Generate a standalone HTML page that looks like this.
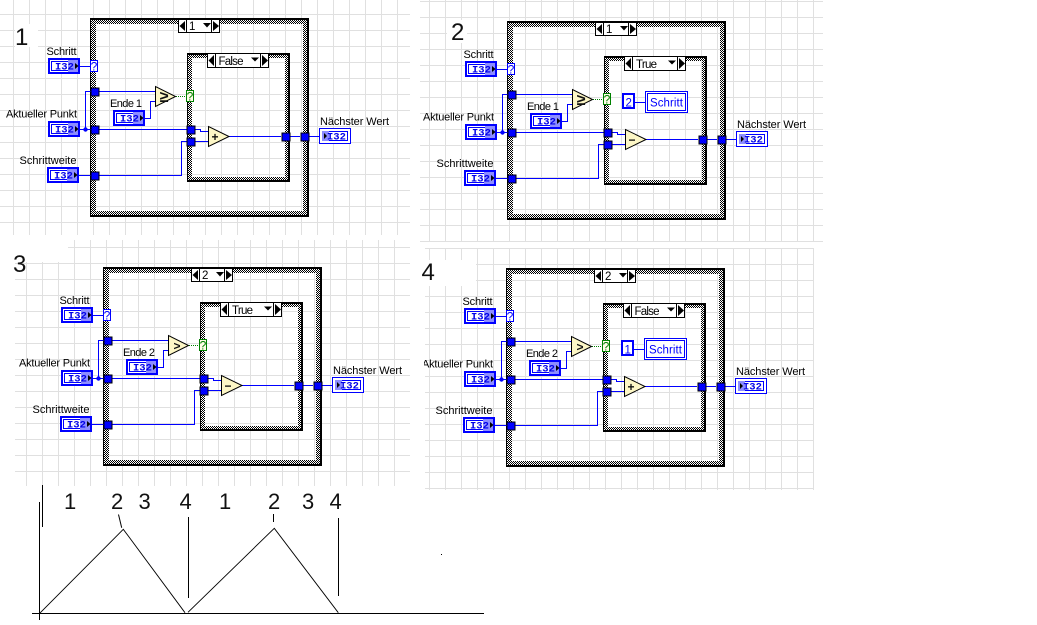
<!DOCTYPE html>
<html>
<head>
<meta charset="utf-8">
<style>
html,body{margin:0;padding:0;background:#fff;width:1037px;height:625px;overflow:hidden}
svg{display:block}
text{font-family:"Liberation Sans",sans-serif}
.l{font-size:11px;fill:#000}
.n{font-size:24px;fill:#111}
.c{font-size:22px;fill:#111}
.t{font-family:"Liberation Mono",monospace;font-weight:bold;font-size:10.5px;fill:#0000e8}
.s{font-size:11.5px;fill:#000}
.q{font-size:12px;fill:#0000ff;text-anchor:middle}
.g{font-size:12px;fill:#008000;text-anchor:middle}
.o{font-size:12px;font-weight:bold;fill:#111;text-anchor:middle}
.ge{font-size:16px;font-weight:bold;fill:#111;text-anchor:middle}
.b{font-size:11.5px;fill:#0000ff}
</style>
</head>
<body>
<svg width="1037" height="625" viewBox="0 0 1037 625" xmlns="http://www.w3.org/2000/svg">
<defs>
<pattern id="g1" patternUnits="userSpaceOnUse" x="13" y="14" width="16" height="16"><rect width="1" height="16" fill="#e0e0e0" shape-rendering="crispEdges"/><rect width="16" height="1" fill="#e0e0e0" shape-rendering="crispEdges"/></pattern>
<pattern id="g2" patternUnits="userSpaceOnUse" x="429" y="17" width="16" height="16"><rect width="1" height="16" fill="#e0e0e0" shape-rendering="crispEdges"/><rect width="16" height="1" fill="#e0e0e0" shape-rendering="crispEdges"/></pattern>
<pattern id="g3" patternUnits="userSpaceOnUse" x="26" y="263" width="16" height="16"><rect width="1" height="16" fill="#e0e0e0" shape-rendering="crispEdges"/><rect width="16" height="1" fill="#e0e0e0" shape-rendering="crispEdges"/></pattern>
<pattern id="g4" patternUnits="userSpaceOnUse" x="429" y="264" width="16" height="16"><rect width="1" height="16" fill="#e0e0e0" shape-rendering="crispEdges"/><rect width="16" height="1" fill="#e0e0e0" shape-rendering="crispEdges"/></pattern>
<clipPath id="cp"><rect x="8" y="100" width="80" height="30"/></clipPath>

<g id="ctl">
<rect x="1" y="1" width="30" height="14" fill="#fff" stroke="#0000ff" stroke-width="2" shape-rendering="crispEdges"/>
<rect x="3.5" y="3.5" width="25" height="9" fill="none" stroke="#0000ff" shape-rendering="crispEdges"/>
<rect x="20" y="2" width="10" height="12" fill="#8c8cff" shape-rendering="crispEdges"/>
<polygon points="27,5 30.5,8 27,11" fill="#000"/>
</g>
<g id="ind">
<rect x=".5" y=".5" width="31" height="15" fill="#fff" stroke="#0000ff" shape-rendering="crispEdges"/>
<rect x="3.5" y="3.5" width="25" height="9" fill="none" stroke="#0000ff" shape-rendering="crispEdges"/>
<rect x="3" y="3" width="7" height="10" fill="#8c8cff" shape-rendering="crispEdges"/>
<polygon points="5,5 8,8 5,11" fill="#000"/>
</g>
<rect id="tun" x="-3.5" y="-3.5" width="8" height="8" fill="#0000ff" stroke="#000" shape-rendering="crispEdges"/>

<g id="base">
<path d="M90 18H309V217H90Z M96 24V211H303V24Z" fill="#fff" fill-rule="evenodd" shape-rendering="crispEdges"/>
<path d="M187 53H290V182H187Z M192 58V177H285V58Z" fill="#fff" fill-rule="evenodd" shape-rendering="crispEdges"/>
<path fill="none" stroke="#000" stroke-dasharray="1 1" shape-rendering="crispEdges" d="
M91 19.5H308M92 20.5H308M91 21.5H308M92 22.5H308M91 23.5H308
M91 211.5H308M92 212.5H308M91 213.5H308M92 214.5H308M91 215.5H308
M91.5 25V211M92.5 24V211M93.5 25V211M94.5 24V211M95.5 25V211
M303.5 25V211M304.5 24V211M305.5 25V211M306.5 24V211M307.5 25V211
M188 54.5H289M189 55.5H289M188 56.5H289M189 57.5H289
M189 177.5H289M188 178.5H289M189 179.5H289M188 180.5H289
M188.5 58V177M189.5 59V177M190.5 58V177M191.5 59V177
M285.5 59V177M286.5 58V177M287.5 59V177M288.5 58V177"/>
<path fill="none" stroke="#000" shape-rendering="crispEdges" d="
M90 18.5H309M90 19.5H309M90.5 18V217M90 216.5H309M90 215.5H309M308.5 18V217M307.5 18V217
M187 53.5H290M187 54.5H290M187.5 53V182M187 181.5H290M187 180.5H290M289.5 53V182M288.5 53V182"/>

<g shape-rendering="crispEdges" fill="none" stroke="#000">
<rect x="178.5" y="19.5" width="41" height="13" fill="#fff"/>
<path d="M186.5 20V32M211.5 20V32"/>
<rect x="207.5" y="53.5" width="61" height="14" fill="#fff"/>
<path d="M215.5 54V67M260.5 54V67"/>
</g>
<g fill="#000">
<polygon points="185,21 179.5,26 185,31"/>
<polygon points="213,21 219,26 213,31"/>
<polygon points="203,23 211,23 207,27.5"/>
<polygon points="214,55 208.5,60.5 214,66"/>
<polygon points="262,55 268,60.5 262,66"/>
<polygon points="251,57.5 259,57.5 255,61.5"/>
</g>

<g fill="none" stroke="#0000ff" shape-rendering="crispEdges">
<path d="M80 66.5H91"/>
<path d="M80 129.5H91M85.5 129V91.5H155"/>
<path d="M98 129.5H187"/>
<path d="M79 175.5H91M98 175.5H181.5V141.5H187"/>
<path d="M195 129.5H200.5V131.5H208M195 141.5H208"/>
<path d="M229 136.5H281M289 136.5H300M308 136.5H319"/>
<path d="M145 118.5H150.5V101.5H155"/>
</g>
<circle cx="85.5" cy="129.5" r="2.2" fill="#0000ff"/>
<path d="M176 96.5H186" stroke="#008000" stroke-dasharray="1 1" fill="none" shape-rendering="crispEdges"/>

<polygon points="155.5,86.5 155.5,106.5 175.5,96.5" fill="#fdf7c6" stroke="#000"/>
<polygon points="208.5,126.5 208.5,146.5 229,136.5" fill="#fdf7c6" stroke="#000"/>

<use href="#tun" x="94.5" y="91.5"/>
<use href="#tun" x="94.5" y="129.5"/>
<use href="#tun" x="94.5" y="175.5"/>
<use href="#tun" x="190.5" y="129.5"/>
<use href="#tun" x="190.5" y="141.5"/>
<use href="#tun" x="285.5" y="136.5"/>
<use href="#tun" x="304.5" y="136.5"/>

<rect x="90.5" y="60.5" width="7" height="11" fill="#fff" stroke="#0000ff" shape-rendering="crispEdges"/>
<rect x="186.5" y="90.5" width="7" height="11" fill="#fffde8" stroke="#008000" shape-rendering="crispEdges"/>

<use href="#ctl" x="48" y="58"/>
<use href="#ctl" x="48" y="121"/>
<use href="#ctl" x="47" y="167"/>
<use href="#ctl" x="113" y="110"/>
<use href="#ind" x="319" y="128"/>
</g>

<g id="cst">
<path d="M218 99.5H228" stroke="#0000ff" shape-rendering="crispEdges"/>
<rect x="206" y="91" width="11" height="14" fill="#fff" stroke="#0000ff" stroke-width="2" shape-rendering="crispEdges"/>
<rect x="228.5" y="88.5" width="42" height="21" fill="#fff" stroke="#0000ff" shape-rendering="crispEdges"/>
<rect x="230.5" y="90.5" width="38" height="17" fill="none" stroke="#0000ff" shape-rendering="crispEdges"/>
</g>
</defs>

<rect width="1037" height="625" fill="#fff"/>
<rect x="0" y="0" width="410" height="235" fill="url(#g1)"/>
<rect x="420" y="0" width="403" height="242" fill="url(#g2)"/>
<rect x="15" y="240" width="395" height="246" fill="url(#g3)"/>
<rect x="425" y="248" width="389" height="242" fill="url(#g4)"/>

<rect x="15" y="24" width="23" height="23" fill="#fff"/>
<rect x="447" y="20" width="20" height="23" fill="#fff"/>
<rect x="0" y="240" width="68" height="22" fill="#fff"/>
<rect x="420" y="260" width="56" height="26" fill="#fff"/>

<!-- Panel 1 -->
<text class="n" x="15" y="45">1</text>
<g>
<use href="#base"/>
<text class="s" x="189" y="30">1</text>
<text class="s" x="218.5" y="65" textLength="25">False</text>
<text class="l" x="46.5" y="55" textLength="30">Schritt</text>
<text class="l" x="6" y="117.5" textLength="71">Aktueller Punkt</text>
<text class="l" x="19.5" y="164" textLength="57">Schrittweite</text>
<text class="l" x="110" y="107" textLength="32">Ende 1</text>
<text class="l" x="320" y="125" textLength="69">Nächster Wert</text>
<text class="t" x="55" y="69.5">I32</text>
<text class="t" x="55" y="132.5">I32</text>
<text class="t" x="54" y="178.5">I32</text>
<text class="t" x="120" y="121.5">I32</text>
<text class="t" x="327" y="139.5">I32</text>
<text class="q" x="94" y="70.5">?</text>
<text class="g" x="190" y="100.5">?</text>
<text class="ge" x="164" y="102">≥</text>
<text class="o" x="215" y="141">+</text>
</g>

<!-- Panel 2 -->
<text class="n" x="451" y="40">2</text>
<g transform="translate(417,3)">
<use href="#base"/>
<use href="#cst"/>
<text class="s" x="189" y="30">1</text>
<text class="s" x="219" y="65" textLength="21">True</text>
<text class="l" x="46.5" y="55" textLength="30">Schritt</text>
<text class="l" x="6" y="117.5" textLength="71">Aktueller Punkt</text>
<text class="l" x="19.5" y="164" textLength="57">Schrittweite</text>
<text class="l" x="110" y="107" textLength="32">Ende 1</text>
<text class="l" x="320" y="125" textLength="69">Nächster Wert</text>
<text class="t" x="55" y="69.5">I32</text>
<text class="t" x="55" y="132.5">I32</text>
<text class="t" x="54" y="178.5">I32</text>
<text class="t" x="120" y="121.5">I32</text>
<text class="t" x="327" y="139.5">I32</text>
<text class="q" x="94" y="70.5">?</text>
<text class="g" x="190" y="100.5">?</text>
<text class="ge" x="164" y="102">≥</text>
<text class="o" x="215" y="141">−</text>
<text class="b" x="208.5" y="103.5">2</text>
<text class="b" x="233" y="103.5" textLength="33">Schritt</text>
</g>

<!-- Panel 3 -->
<text class="n" x="13" y="272">3</text>
<g transform="translate(13,249)">
<use href="#base"/>
<text class="s" x="189" y="30">2</text>
<text class="s" x="219" y="65" textLength="21">True</text>
<text class="l" x="46.5" y="55" textLength="30">Schritt</text>
<text class="l" x="6" y="117.5" textLength="71">Aktueller Punkt</text>
<text class="l" x="19.5" y="164" textLength="57">Schrittweite</text>
<text class="l" x="110" y="107" textLength="32">Ende 2</text>
<text class="l" x="320" y="125" textLength="69">Nächster Wert</text>
<text class="t" x="55" y="69.5">I32</text>
<text class="t" x="55" y="132.5">I32</text>
<text class="t" x="54" y="178.5">I32</text>
<text class="t" x="120" y="121.5">I32</text>
<text class="t" x="327" y="139.5">I32</text>
<text class="q" x="94" y="70.5">?</text>
<text class="g" x="190" y="100.5">?</text>
<text class="o" x="164" y="101">&gt;</text>
<text class="o" x="215" y="141">−</text>
</g>

<!-- Panel 4 -->
<text class="n" x="421.5" y="280">4</text>
<g transform="translate(416,250)">
<use href="#base"/>
<use href="#cst"/>
<text class="s" x="189" y="30">2</text>
<text class="s" x="218.5" y="65" textLength="25">False</text>
<text class="l" x="46.5" y="55" textLength="30">Schritt</text>
<text class="l" x="6" y="117.5" textLength="71" clip-path="url(#cp)">Aktueller Punkt</text>
<text class="l" x="19.5" y="164" textLength="57">Schrittweite</text>
<text class="l" x="110" y="107" textLength="32">Ende 2</text>
<text class="l" x="320" y="125" textLength="69">Nächster Wert</text>
<text class="t" x="55" y="69.5">I32</text>
<text class="t" x="55" y="132.5">I32</text>
<text class="t" x="54" y="178.5">I32</text>
<text class="t" x="120" y="121.5">I32</text>
<text class="t" x="327" y="139.5">I32</text>
<text class="q" x="94" y="70.5">?</text>
<text class="g" x="190" y="100.5">?</text>
<text class="o" x="164" y="101">&gt;</text>
<text class="o" x="215" y="141">+</text>
<text class="b" x="208.5" y="103.5">1</text>
<text class="b" x="233" y="103.5" textLength="33">Schritt</text>
</g>

<!-- Chart -->
<g fill="none" stroke="#000">
<path d="M42.5 485V527M39.5 502V620M32 613.5H484M188.5 517V598M338.5 518V596M273.5 514V522" shape-rendering="crispEdges"/>
<path d="M118.5 514.5L121.7 527.7"/>
<path d="M39.7 613.3L123.3 529.3L185 612.7M188 612.3L274.3 528.3L338.3 612.7" stroke-width="0.9"/>
</g>
<rect x="441" y="554" width="1" height="1" fill="#000"/>
<text class="c" x="64" y="509">1</text>
<text class="c" x="111" y="509">2</text>
<text class="c" x="138.5" y="509">3</text>
<text class="c" x="179.5" y="509">4</text>
<text class="c" x="219" y="509">1</text>
<text class="c" x="268" y="509">2</text>
<text class="c" x="302" y="509">3</text>
<text class="c" x="329.5" y="509">4</text>
</svg>
</body>
</html>
